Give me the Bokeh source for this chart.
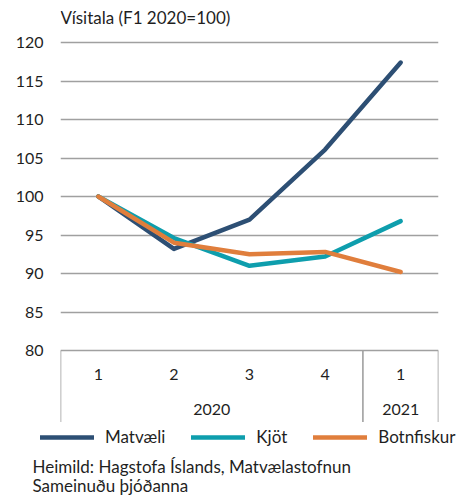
from bokeh.plotting import figure
from bokeh.models import FixedTicker, Legend, LegendItem, Range1d, Label
from bokeh.layouts import column
from bokeh.embed import file_html
from bokeh.resources import INLINE
from bokeh.core.properties import value

# ---- data ----
quarters = ["1", "2", "3", "4", "1"]
years = ["2020", "2020", "2020", "2020", "2021"]
matvaeli = [100.0, 93.2, 97.0, 106.1, 117.4]
kjot = [100.0, 94.6, 91.0, 92.2, 96.8]
botnfiskur = [100.0, 94.0, 92.5, 92.8, 90.2]
series_names = ["Matvæli", "Kjöt", "Botnfiskur"]
y_ticks = [80, 85, 90, 95, 100, 105, 110, 115, 120]
title_text = "Vísitala (F1 2020=100)"
source_lines = ["Heimild: Hagstofa Íslands, Matvælastofnun", "Sameinuðu þjóðanna"]

# ---- style ----
FONT = "Lato"
FS_NUM = "16px"
FS_TXT = "17px"
TXT = "#1f1f1f"
GRID = "#a0a0a0"
colors = ["#2d4f74", "#0e9ead", "#e07e3c"]
LW = 4.5

W = 469
H1, H2 = 422, 75
left, right = 60, 31
top_px, axis_px, cat_px = 42, 308, 72   # frame: title strip, 80..120 band, category band
y_lo, y_hi = y_ticks[0], y_ticks[-1]
unit = axis_px / (y_hi - y_lo)
y_top = y_hi + top_px / unit
y_bottom = y_lo - cat_px / unit

n = len(quarters)
xs = list(range(1, n + 1))
series = [matvaeli, kjot, botnfiskur]

p = figure(width=W, height=H1, output_backend="svg", toolbar_location=None,
           x_axis_location=None, min_border_left=left, min_border_right=right,
           min_border_top=0, min_border_bottom=0, margin=0,
           x_range=Range1d(0.5, n + 0.5), y_range=Range1d(y_bottom, y_top))
p.outline_line_color = None
p.background_fill_color = "white"
p.border_fill_color = "white"
p.xgrid.visible = False

p.yaxis.ticker = FixedTicker(ticks=y_ticks)
p.yaxis.axis_line_color = None
p.yaxis.major_tick_line_color = None
p.yaxis.minor_tick_line_color = None
p.yaxis.major_tick_out = 0
p.yaxis.major_tick_in = 0
p.yaxis.major_label_standoff = 17
p.yaxis.major_label_text_font = FONT
p.yaxis.major_label_text_font_size = FS_NUM
p.yaxis.major_label_text_color = TXT
p.ygrid.ticker = FixedTicker(ticks=y_ticks)
p.ygrid.grid_line_color = GRID
p.ygrid.grid_line_width = 1.6

p.add_layout(Label(x=0, y=H1 - 17, x_units="screen", y_units="screen", text=title_text,
                   text_font=FONT, text_font_size=FS_TXT, text_color=TXT,
                   text_baseline="middle"))

# category separators (group boundaries)
bounds = [0.5]
for i in range(1, n):
    if years[i] != years[i - 1]:
        bounds.append(i + 0.5)
bounds.append(n + 0.5)
p.segment(x0=bounds, x1=bounds, y0=[y_lo] * len(bounds), y1=[y_bottom] * len(bounds),
          line_color=GRID, line_width=1.6)

# quarter labels
q_y = y_lo - 24 / unit
p.text(x=xs, y=[q_y] * n, text=quarters, text_align="center", text_baseline="middle",
       text_font=value(FONT), text_font_size=FS_NUM, text_color=TXT)
# year labels
groups = []
for i, yv in enumerate(years):
    if groups and groups[-1][0] == yv:
        groups[-1][1].append(i + 1)
    else:
        groups.append((yv, [i + 1]))
yr_x = [sum(g[1]) / len(g[1]) for g in groups]
yr_t = [g[0] for g in groups]
yr_y = y_lo - 59 / unit
p.text(x=yr_x, y=[yr_y] * len(yr_x), text=yr_t, text_align="center", text_baseline="middle",
       text_font=value(FONT), text_font_size=FS_NUM, text_color=TXT)

for vals, c in zip(series, colors):
    p.line(xs, vals, line_color=c, line_width=LW, line_cap="round", line_join="round")

# ---- legend + source strip ----
q = figure(width=W, height=H2, output_backend="svg", toolbar_location=None,
           x_axis_location=None, y_axis_location=None, min_border=0,
           min_border_left=0, min_border_right=0, min_border_top=0, min_border_bottom=0,
           margin=0, x_range=Range1d(0, 1), y_range=Range1d(0, 1))
q.outline_line_color = None
q.grid.visible = False
q.background_fill_color = "white"
q.border_fill_color = "white"
for fig in (p, q):
    try:
        fig.frame_align = False
    except Exception:
        pass

items = []
for name, vals, c in zip(series_names, series, colors):
    # same series drawn outside this strip's visible range; used only as legend keys
    r = q.line(xs, vals, line_color=c, line_width=LW, line_cap="round")
    items.append(LegendItem(label=name, renderers=[r]))

legend = Legend(items=items, location=(40, H2 - 25), orientation="horizontal",
                glyph_width=54, glyph_height=20, label_standoff=11, spacing=26,
                padding=4, margin=0, border_line_color=None, background_fill_alpha=0,
                label_text_font=FONT, label_text_font_size=FS_TXT, label_text_color=TXT,
                label_height=20)
q.add_layout(legend)

for k, line in enumerate(source_lines):
    q.add_layout(Label(x=32, y=H2 - 44 - 19 * k, x_units="screen", y_units="screen",
                       text=line, text_font=FONT, text_font_size=FS_TXT, text_color=TXT,
                       text_baseline="middle"))

open("out.html", "w").write(file_html(column(p, q, spacing=0), INLINE))
